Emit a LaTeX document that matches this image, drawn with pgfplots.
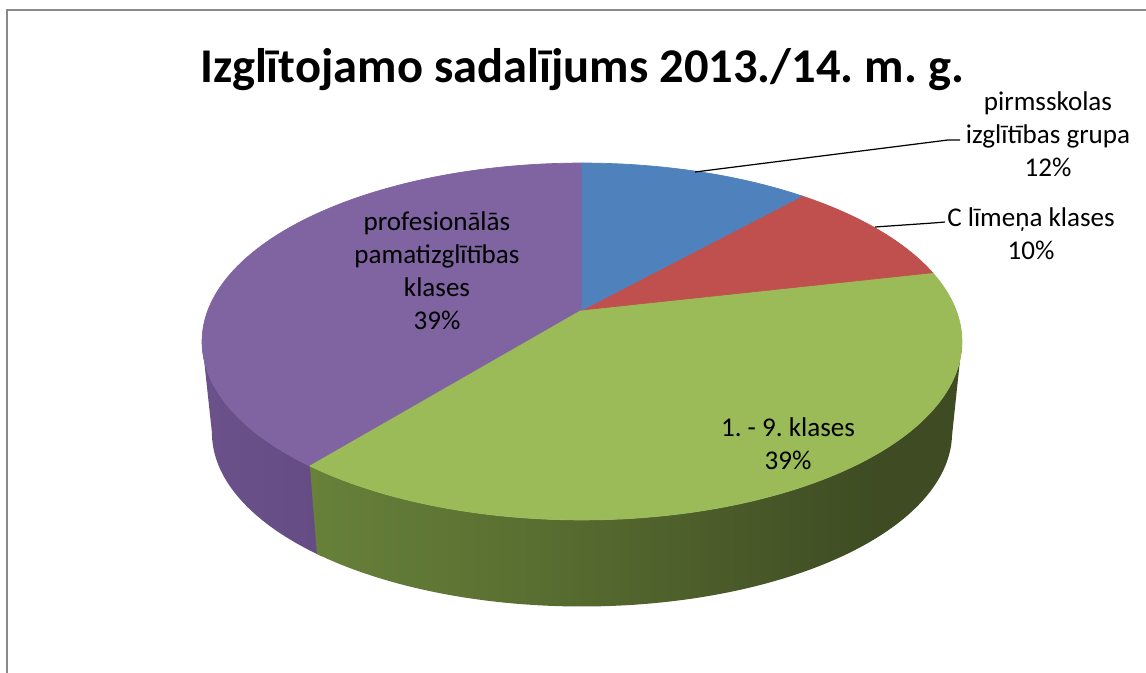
\documentclass[border=0pt]{standalone}
\usepackage{pgfplots}
\pgfplotsset{compat=1.18}
\usepackage{pgfplotstable}
\usepackage{fontspec}
\setmainfont{Carlito}
\frenchspacing

\definecolor{cBlue}{HTML}{4F81BD}
\definecolor{cRed}{HTML}{C0504D}
\definecolor{cGreen}{HTML}{9BBB59}
\definecolor{cPurple}{HTML}{8064A2}
\definecolor{gw1}{HTML}{7B9A47}
\definecolor{gw2}{HTML}{5B7132}
\definecolor{gw3}{HTML}{3E4B23}
\definecolor{pw1}{HTML}{6E548C}
\definecolor{pw2}{HTML}{634982}
\definecolor{frameGray}{HTML}{8A8A8A}

\pgfdeclarehorizontalshading{greenwall}{100bp}{color(0bp)=(gw1); color(40bp)=(gw2); color(69bp)=(gw3); color(100bp)=(gw3)}
\pgfdeclarehorizontalshading{purplewall}{100bp}{color(0bp)=(pw1); color(100bp)=(pw2)}

% shares of the pie (percent)
\pgfplotstableread{
part value
1 11.6
2 9.8
3 39.4
4 39.2
}\piedata

\pgfplotstablegetelem{0}{value}\of\piedata \pgfmathsetmacro\vA{\pgfplotsretval}
\pgfplotstablegetelem{1}{value}\of\piedata \pgfmathsetmacro\vB{\pgfplotsretval}
\pgfplotstablegetelem{2}{value}\of\piedata \pgfmathsetmacro\vC{\pgfplotsretval}
\pgfplotstablegetelem{3}{value}\of\piedata \pgfmathsetmacro\vD{\pgfplotsretval}
\pgfmathsetmacro\tA{90}
\pgfmathsetmacro\tB{\tA-3.6*\vA}
\pgfmathsetmacro\tC{\tB-3.6*\vB}
\pgfmathsetmacro\tD{\tC-3.6*\vC}
\pgfmathsetmacro\tE{\tD-3.6*\vD}
\pgfmathsetmacro\sR{360-asin(0.1765)}
\pgfmathsetmacro\sL{180+asin(0.1765)}
\pgfmathsetmacro\tDp{\tD+360}
\pgfmathsetmacro\tDq{\tD+361.5}

\begin{document}
\begin{tikzpicture}[declare function={
  px(\t)=582+374*cos(\t)/(1+0.1765*sin(\t));
  py(\t)=310-172.9*sin(\t)/(1+0.1765*sin(\t));
  qx(\t)=582+0.974*374*cos(\t)/(1+0.1765*sin(\t));
  qy(\t)=402-0.974*172.9*sin(\t)/(1+0.1765*sin(\t));
}]
\begin{axis}[
  width=11.46cm, height=6.73cm, scale only axis,
  xmin=0, xmax=1146, ymin=0, ymax=673, y dir=reverse,
  hide axis, clip=false,
]
% side walls
\addplot[draw=none, shade, shading=purplewall, domain=0:2, samples=161]
  ({x<=1 ? px(\sL+(\tDq-\sL)*x) : qx(\tDq-(\tDq-\sL)*(x-1))},
   {x<=1 ? py(\sL+(\tDq-\sL)*x) : qy(\tDq-(\tDq-\sL)*(x-1))});
\addplot[draw=none, shade, shading=greenwall, domain=0:2, samples=241]
  ({x<=1 ? px(\tDp+(\sR-\tDp)*x) : qx(\sR-(\sR-\tDp)*(x-1))},
   {x<=1 ? py(\tDp+(\sR-\tDp)*x) : qy(\sR-(\sR-\tDp)*(x-1))});
% top faces
\addplot[fill=cPurple, draw=cPurple, line width=0.2pt, domain=\tE:\tD, samples=120] ({px(x)},{py(x)}) -- (axis cs:582,310) -- cycle;
\addplot[fill=cGreen, draw=cGreen, line width=0.2pt, domain=\tD:\tC, samples=120] ({px(x)},{py(x)}) -- (axis cs:582,310) -- cycle;
\addplot[fill=cRed, draw=cRed, line width=0.2pt, domain=\tC:\tB, samples=40] ({px(x)},{py(x)}) -- (axis cs:582,310) -- cycle;
\addplot[fill=cBlue, draw=cBlue, line width=0.2pt, domain=\tB:\tA, samples=40] ({px(x)},{py(x)}) -- (axis cs:582,310) -- cycle;

% leader lines
\addplot[black, line width=0.35pt] coordinates {(695,172) (948,140) (960,140)};
\addplot[black, line width=0.35pt] coordinates {(875,227) (933,223) (945,222)};

% chart frame
\addplot[frameGray, line width=0.45pt] coordinates {(7,673) (7,10) (1146,10)};

% title
\node[font=\bfseries\fontsize{13.8}{17}\selectfont, anchor=base, inner sep=0pt] at (axis cs:582,83) {Izglītojamo sadalījums 2013./14. m. g.};

% labels
\tikzset{lbl/.style={font=\fontsize{7.7}{9.4}\selectfont, align=center, inner sep=0pt, anchor=center}}
\node[lbl] at (axis cs:1048,134) {pirmsskolas\\izglītības grupa\\12\%};
\node[lbl] at (axis cs:1031,234) {C līmeņa klases\\10\%};
\node[lbl] at (axis cs:788,444) {1. - 9. klases\\39\%};
\node[lbl] at (axis cs:437,271) {profesionālās\\pamatizglītības\\klases\\39\%};
\end{axis}
\pgfresetboundingbox
\path[use as bounding box] (current axis.south west) rectangle (current axis.north east);
\end{tikzpicture}
\end{document}
